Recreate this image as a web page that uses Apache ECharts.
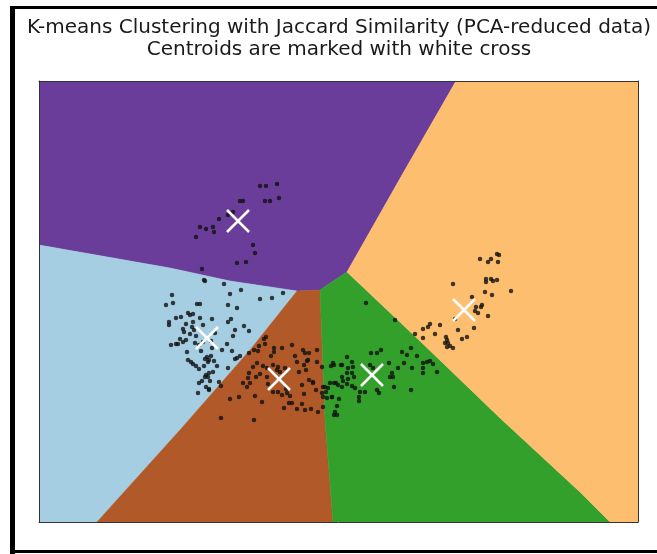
<!DOCTYPE html>
<html>
<head>
    <meta charset="UTF-8">
    <title>K-means Clustering with Jaccard Similarity</title>
    <style>
        html, body {
            height: 100%;
            margin: 0;
            padding: 0;
            background: #fff;
        }
        #chart-container {
            width: 657px;
            height: 554px;
        }
    </style>
</head>
<body>
<div id="chart-container"></div>

<script src="https://cdn.jsdelivr.net/npm/echarts@6/dist/echarts.min.js"></script>
<script>
    // cluster names and colours (Paired colormap)
    const clusterNames = ['purple', 'lightblue', 'brown', 'green', 'orange'];
    const clusterColors = ['#6a3d9a', '#a6cee3', '#b15928', '#33a02c', '#fdbf6f'];

    // decision regions, vertices (x, y; y grows downward)
    const regionPurple = [[39, 81], [456, 81], [402, 175], [347, 272], [320, 290], [297, 291], [230, 281], [170, 268], [39, 245]];
    const regionLightBlue = [[39, 245], [170, 268], [230, 281], [297, 291], [250, 350], [180, 430], [97, 522], [39, 522]];
    const regionBrown = [[97, 522], [180, 430], [250, 350], [297, 291], [320, 290], [325, 420], [333, 522]];
    const regionGreen = [[320, 290], [347, 272], [420, 341], [500, 418], [580, 492], [610, 522], [333, 522], [325, 420]];
    const regionOrange = [[456, 81], [638, 81], [638, 522], [610, 522], [580, 492], [500, 418], [420, 341], [347, 272], [402, 175]];

    // centroids
    const centroidX = [238, 207, 279, 372, 464];
    const centroidY = [221, 338, 379, 375, 310];

    // data points
    const ptsX = [
        260, 266, 277, 240, 243, 265, 270, 279, 233, 228, 219, 200, 206, 213, 214, 196, 253, 255, 246, 237,
        202, 204, 224, 241, 230, 283, 272, 260, 172, 173, 166, 197, 200, 228, 237, 188, 190, 193, 181, 212,
        231, 205, 228, 169, 169, 186, 193, 203, 183, 235, 244, 249, 190, 194, 196, 233, 180, 183, 186, 171,
        176, 178, 195, 199, 203, 211, 227, 212, 201, 232, 266, 264, 265, 259, 274, 274, 282, 292, 305, 317,
        249, 254, 258, 240, 237, 235, 211, 207, 209, 205, 208, 214, 188, 191, 193, 199, 213, 209, 206, 205,
        208, 210, 202, 199, 206, 209, 219, 228, 221, 198, 209, 257, 263, 253, 267, 273, 278, 277, 280, 285,
        297, 304, 307, 317, 322, 299, 306, 249, 248, 256, 260, 267, 250, 247, 273, 278, 282, 287, 290, 302,
        304, 309, 313, 316, 323, 230, 239, 255, 262, 284, 292, 302, 311, 318, 326, 221, 254, 297, 323, 303,
        309, 308, 313, 305, 176, 184, 192, 200, 215, 222, 187, 196, 204, 217, 243, 268, 286, 295, 271, 289,
        331, 333, 342, 330, 334, 338, 343, 347, 332, 339, 337, 327, 334, 323,
        395, 366, 371, 377, 381, 402, 411, 417, 407, 347, 334, 341, 352, 353, 348, 347, 352, 354, 348, 342,
        336, 325, 328, 342, 352, 355, 360, 365, 359, 359, 377, 379, 394, 411, 389, 398, 392, 393, 390, 404,
        412, 423, 427, 433, 423, 423, 437, 430, 322, 332, 335, 337, 370, 373,
        480, 488, 491, 497, 499, 498, 486, 486, 491, 493, 497, 453, 485, 492, 511, 472, 482, 476, 475, 488,
        455, 474, 458, 467, 462, 440, 430, 428, 423, 415, 423, 435, 446, 447, 445, 448, 450, 453, 447, 481, 478
    ];
    const ptsY = [
        186, 186, 184, 201, 201, 201, 201, 198, 212, 215, 219, 227, 229, 227, 232, 237, 245, 253, 262, 263,
        269, 280, 284, 290, 294, 293, 298, 299, 295, 303, 305, 304, 304, 305, 308, 313, 315, 314, 317, 319,
        319, 281, 322, 322, 325, 324, 322, 325, 329, 330, 326, 331, 334, 330, 336, 336, 339, 342, 340, 345,
        344, 344, 343, 345, 342, 341, 344, 348, 351, 351, 337, 339, 344, 346, 348, 352, 348, 345, 353, 350,
        353, 350, 351, 356, 358, 359, 356, 357, 360, 359, 362, 361, 360, 362, 364, 369, 372, 373, 375, 377,
        377, 381, 381, 383, 387, 389, 382, 368, 386, 393, 390, 363, 366, 367, 368, 365, 367, 370, 372, 368,
        362, 365, 361, 362, 367, 372, 370, 373, 378, 377, 374, 377, 383, 387, 392, 392, 395, 393, 396, 385,
        394, 380, 382, 390, 387, 399, 397, 396, 402, 408, 403, 404, 409, 412, 392, 418, 420, 409, 397, 350,
        353, 360, 383, 410, 318, 332, 327, 318, 333, 350, 352, 366, 366, 366, 383, 384, 389, 356, 356, 403,
        366, 363, 365, 383, 383, 385, 381, 384, 397, 399, 406, 398, 415, 407,
        320, 303, 353, 353, 350, 352, 348, 356, 355, 357, 365, 365, 362, 367, 368, 373, 373, 377, 379, 377,
        383, 387, 388, 387, 386, 388, 392, 392, 397, 401, 390, 393, 387, 390, 363, 368, 373, 377, 377, 363,
        368, 363, 362, 364, 368, 373, 372, 361, 393, 397, 412, 415, 365, 368,
        259, 262, 259, 254, 255, 262, 279, 282, 279, 281, 280, 284, 292, 295, 291, 297, 305, 307, 311, 316,
        319, 328, 330, 337, 339, 325, 324, 327, 329, 334, 338, 334, 337, 340, 343, 343, 346, 348, 347, 307, 313
    ];

    const regions = [regionPurple, regionLightBlue, regionBrown, regionGreen, regionOrange];
    const regionData = regions.map(function (poly, i) { return [i]; });
    const pointData = ptsX.map(function (x, i) { return [x, ptsY[i]]; });
    const centroidData = centroidX.map(function (x, i) { return [x, centroidY[i]]; });

    const chart = echarts.init(document.getElementById('chart-container'));

    const option = {
        animation: false,
        backgroundColor: '#fff',
        title: {
            text: 'K-means Clustering with Jaccard Similarity (PCA-reduced data)\nCentroids are marked with white cross',
            left: 334,
            textAlign: 'center',
            top: 12,
            textStyle: {
                fontFamily: 'DejaVu Sans',
                fontWeight: 'normal',
                fontSize: 20,
                lineHeight: 22,
                color: '#1a1a1a'
            }
        },
        graphic: [
            { type: 'rect', shape: { x: 10, y: 6, width: 5, height: 548 }, style: { fill: '#000' } },
            { type: 'rect', shape: { x: 10, y: 6, width: 647, height: 3 }, style: { fill: '#000' } },
            { type: 'rect', shape: { x: 10, y: 550, width: 647, height: 3 }, style: { fill: '#000' } }
        ],
        grid: { left: 39, top: 81, width: 599, height: 441 },
        xAxis: [
            { type: 'value', min: 39, max: 638, z: 10, axisLine: { lineStyle: { color: '#333' } }, axisTick: { show: false }, axisLabel: { show: false }, splitLine: { show: false } },
            { type: 'value', position: 'top', min: 39, max: 638, z: 10, axisLine: { lineStyle: { color: '#333' } }, axisTick: { show: false }, axisLabel: { show: false }, splitLine: { show: false } }
        ],
        yAxis: [
            { type: 'value', inverse: true, min: 81, max: 522, z: 10, axisLine: { lineStyle: { color: '#333' } }, axisTick: { show: false }, axisLabel: { show: false }, splitLine: { show: false } },
            { type: 'value', position: 'right', inverse: true, min: 81, max: 522, z: 10, axisLine: { lineStyle: { color: '#333' } }, axisTick: { show: false }, axisLabel: { show: false }, splitLine: { show: false } }
        ],
        series: [
            {
                type: 'custom',
                name: 'regions',
                data: regionData,
                clip: true,
                z: 1,
                renderItem: function (params, api) {
                    const i = api.value(0);
                    const pts = regions[i].map(function (p) { return api.coord(p); });
                    return {
                        type: 'polygon',
                        shape: { points: pts },
                        style: { fill: clusterColors[i], stroke: clusterColors[i], lineWidth: 0.5 }
                    };
                }
            },
            {
                type: 'scatter',
                name: 'points',
                data: pointData,
                symbolSize: 4.5,
                z: 3,
                itemStyle: { color: '#111' }
            },
            {
                type: 'custom',
                name: 'centroids',
                data: centroidData,
                z: 4,
                renderItem: function (params, api) {
                    const c = api.coord([api.value(0), api.value(1)]);
                    const h = 11;
                    return {
                        type: 'group',
                        children: [
                            { type: 'line', shape: { x1: c[0] - h, y1: c[1] - h, x2: c[0] + h, y2: c[1] + h }, style: { stroke: '#fff', lineWidth: 2.5 } },
                            { type: 'line', shape: { x1: c[0] - h, y1: c[1] + h, x2: c[0] + h, y2: c[1] - h }, style: { stroke: '#fff', lineWidth: 2.5 } }
                        ]
                    };
                }
            }
        ]
    };

    chart.setOption(option);
</script>
</body>
</html>
